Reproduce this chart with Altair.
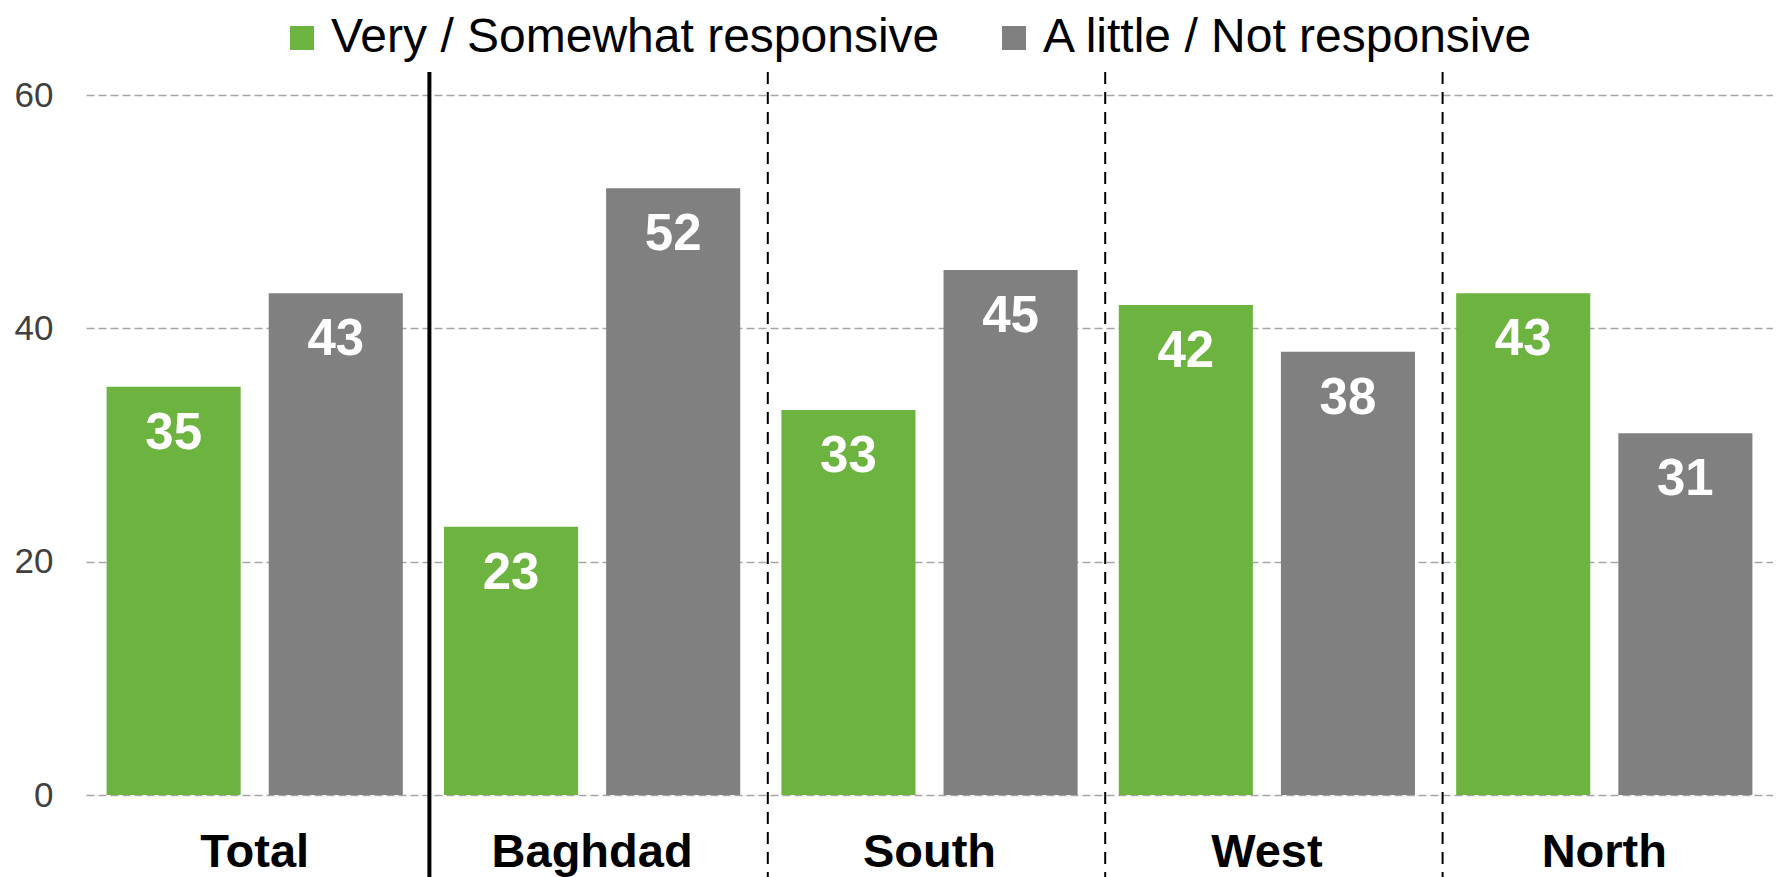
import altair as alt
import pandas as pd

regions = ["Total", "Baghdad", "South", "West", "North"]
responsive = [35, 23, 33, 42, 43]
not_responsive = [43, 52, 45, 38, 31]
series = ["Very / Somewhat responsive", "A little / Not responsive"]
colors = ["#6db33f", "#808080"]
y_ticks = [0, 20, 40, 60]
solid_sep = ["Baghdad"]
dashed_sep = ["South", "West", "North"]

rows = []
for r, a, b in zip(regions, responsive, not_responsive):
    rows.append({"region": r, "series": series[0], "value": a})
    rows.append({"region": r, "series": series[1], "value": b})
df = pd.DataFrame(rows)

W, H = 1687, 700
FONT = "Liberation Sans"

x_enc = alt.X(
    "region:N", sort=regions,
    scale=alt.Scale(paddingInner=0, paddingOuter=0),
    axis=alt.Axis(title=None, labelAngle=0, labelFont=FONT, labelFontSize=47,
                  labelFontWeight="bold", labelColor="black", labelPadding=34,
                  labelLimit=0, ticks=False, domain=False, grid=False),
)
xoff_enc = alt.XOffset("series:N", sort=series,
                       scale=alt.Scale(paddingInner=0.173, paddingOuter=0.127))
y_enc = alt.Y(
    "value:Q", scale=alt.Scale(domain=[0, 60], nice=False),
    axis=alt.Axis(title=None, values=y_ticks, labelFont=FONT, labelFontSize=35,
                  labelColor="#404040", labelPadding=33, ticks=False, domain=False,
                  gridColor="#a6a6a6", gridDash=[8, 4], gridWidth=1.5),
)

base = alt.Chart(df)
bars = base.mark_bar().encode(
    x=x_enc, xOffset=xoff_enc, y=y_enc,
    color=alt.Color(
        "series:N", sort=series,
        scale=alt.Scale(domain=series, range=colors),
        legend=alt.Legend(orient="none", legendX=192, legendY=-81,
                          direction="horizontal", title=None,
                          symbolType="square", symbolSize=576,
                          symbolStrokeWidth=0, symbolOpacity=1,
                          labelFont=FONT, labelFontSize=48, labelColor="black",
                          labelLimit=0, labelOffset=5, columnPadding=50,
                          padding=0, offset=0),
    ),
)
labels = base.mark_text(baseline="middle", dy=47, fontSize=51, fontWeight="bold",
                        color="white", font=FONT).encode(
    x=x_enc, xOffset=xoff_enc, y=y_enc, text="value:Q"
)

sep_solid = alt.Chart(pd.DataFrame({"region": solid_sep})).mark_rule(
    color="black", strokeWidth=4, xOffset=6
).encode(
    x=alt.X("region:N", sort=regions, bandPosition=0),
    y=alt.value(-23), y2=alt.value(H + 110),
)
sep_dashed = alt.Chart(pd.DataFrame({"region": dashed_sep})).mark_rule(
    color="black", strokeWidth=2, strokeDash=[12, 8], xOffset=7
).encode(
    x=alt.X("region:N", sort=regions, bandPosition=0),
    y=alt.value(-23), y2=alt.value(H + 110),
)

chart = alt.layer(bars, labels, sep_solid, sep_dashed).properties(
    width=W, height=H,
    padding={"left": 78, "top": 87, "right": 0, "bottom": 110},
    autosize=alt.AutoSizeParams(type="none"),
).configure_view(stroke=None)

chart.save("out.html", embed_options={"renderer": "svg", "actions": False})
